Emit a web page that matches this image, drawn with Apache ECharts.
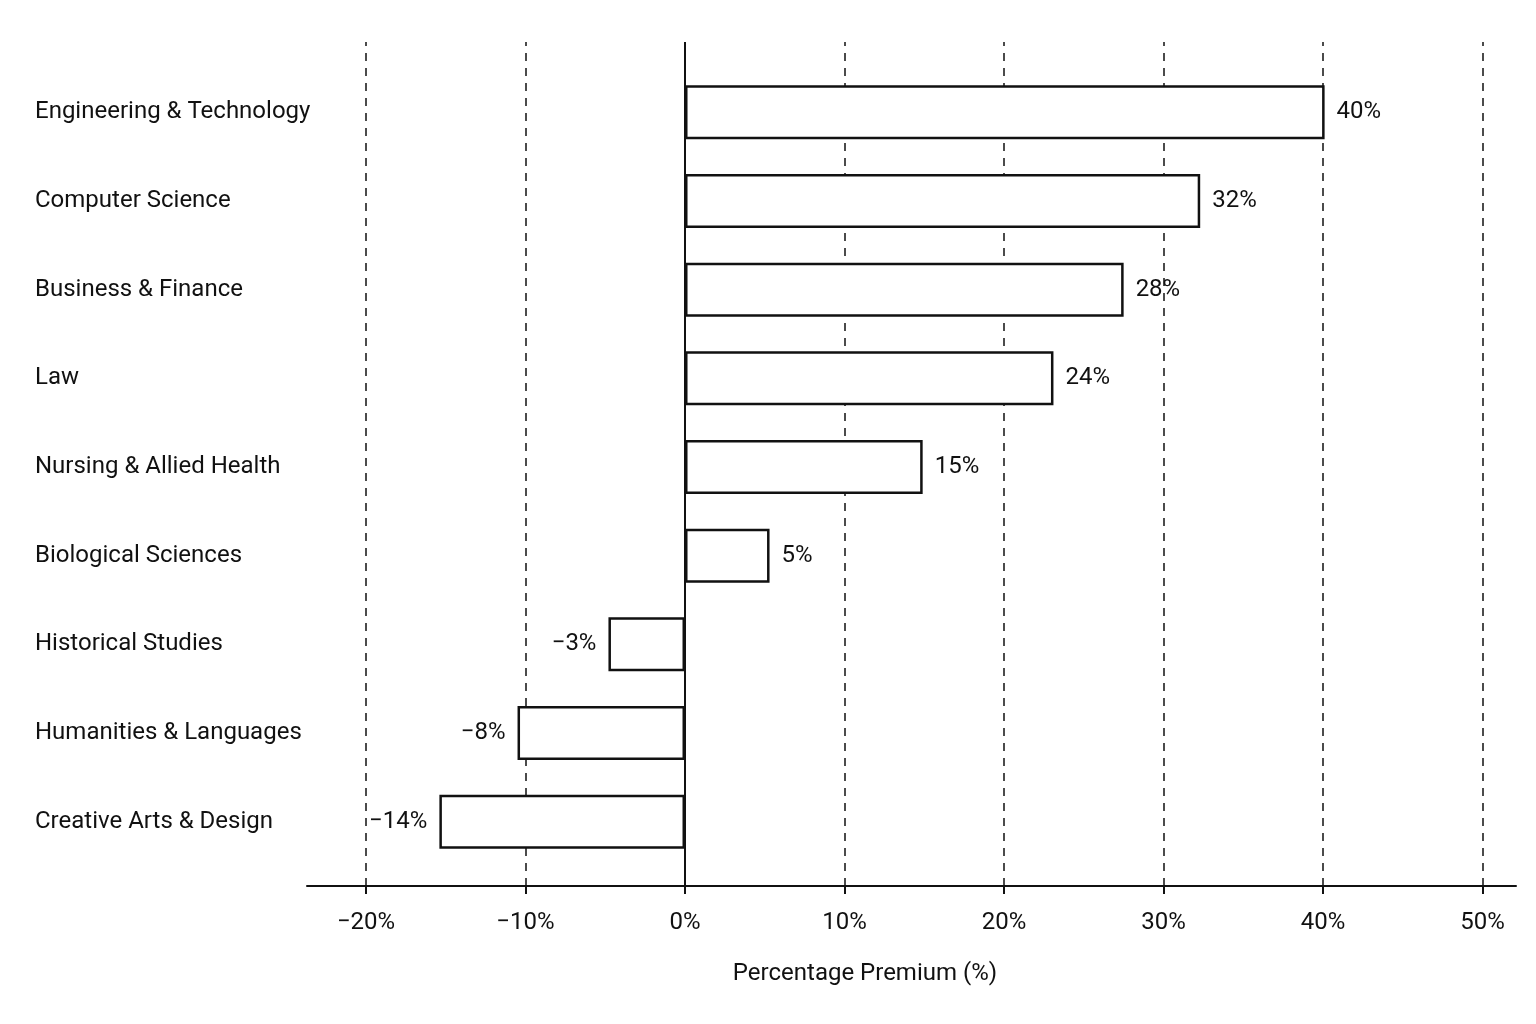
<!DOCTYPE html>
<html>
<head>
<meta charset="utf-8">
<script src="https://cdn.jsdelivr.net/npm/echarts@6/dist/echarts.min.js"></script>
<style>
  html, body { margin: 0; padding: 0; background: #fff; }
  #chart { width: 1536px; height: 1024px; }
</style>
</head>
<body>
<div id="chart"></div>
<script>
const categories = [
  "Engineering & Technology",
  "Computer Science",
  "Business & Finance",
  "Law",
  "Nursing & Allied Health",
  "Biological Sciences",
  "Historical Studies",
  "Humanities & Languages",
  "Creative Arts & Design"
];
// bar lengths as drawn
const premiums = [40.1, 32.3, 27.5, 23.1, 14.9, 5.3, -4.8, -10.5, -15.4];
// value labels as printed
const premiumLabels = ["40%", "32%", "28%", "24%", "15%", "5%", "\u22123%", "\u22128%", "\u221214%"];
const tickValues = [-20, -10, 0, 10, 20, 30, 40, 50];

const fontFamily = "Roboto, 'Noto Sans', sans-serif";
const fmt = (v) => (v < 0 ? "\u2212" + Math.abs(v) : v) + "%";

var chartDom = document.getElementById("chart");
var myChart = echarts.init(chartDom);
var option;

option = {
  backgroundColor: "#ffffff",
  animation: false,
  title: {
    text: "Percentage Premium (%)",
    left: 860,
    top: 957,
    textAlign: "center",
    textStyle: { fontFamily: fontFamily, fontSize: 24, fontWeight: "normal", color: "#111" },
  },
  grid: [
    { left: 307, right: 20, top: 42, bottom: 138 },
    { left: 307, right: 20, top: 68, bottom: 158 },
  ],
  xAxis: [
    {
      gridIndex: 0,
      type: "value",
      min: -23.7,
      max: 52.1,
      axisLine: { show: true, onZero: false, lineStyle: { color: "#111", width: 2 } },
      axisTick: { show: true, customValues: tickValues, length: 8, lineStyle: { color: "#111", width: 2 } },
      axisLabel: {
        customValues: tickValues,
        formatter: fmt,
        margin: 25,
        fontFamily: fontFamily,
        fontSize: 24,
        color: "#111",
      },
      splitLine: { show: false },
    },
    {
      gridIndex: 1,
      type: "value",
      min: -23.7,
      max: 52.1,
      show: false,
    },
  ],
  yAxis: [
    { gridIndex: 0, type: "value", min: 0, max: 1, show: false },
    {
      gridIndex: 1,
      type: "category",
      inverse: true,
      data: categories,
      axisLine: { show: false },
      axisTick: { show: false },
      axisLabel: {
        align: "left",
        margin: 272,
        fontFamily: fontFamily,
        fontSize: 24,
        color: "#111",
      },
    },
  ],
  series: [
    {
      type: "line",
      xAxisIndex: 0,
      yAxisIndex: 0,
      data: [],
      z: 1,
      silent: true,
      markLine: {
        silent: true,
        symbol: ["none", "none"],
        label: { show: false },
        data: tickValues.map((v) => ({
          xAxis: v,
          lineStyle: v === 0
            ? { color: "#111", width: 2, type: "solid" }
            : { color: "#111", width: 1.5, type: [8, 7] },
        })),
      },
    },
    {
      type: "bar",
      xAxisIndex: 1,
      yAxisIndex: 1,
      z: 5,
      barWidth: 54,
      itemStyle: { color: "#ffffff", borderColor: "#111", borderWidth: 2.5 },
      label: {
        show: true,
        distance: 12,
        fontFamily: fontFamily,
        fontSize: 24,
        color: "#111",
      },
      data: premiums.map((v, i) => ({
        value: v,
        label: { position: v < 0 ? "left" : "right", formatter: premiumLabels[i] },
      })),
    },
  ],
};

option && myChart.setOption(option);
</script>
</body>
</html>
